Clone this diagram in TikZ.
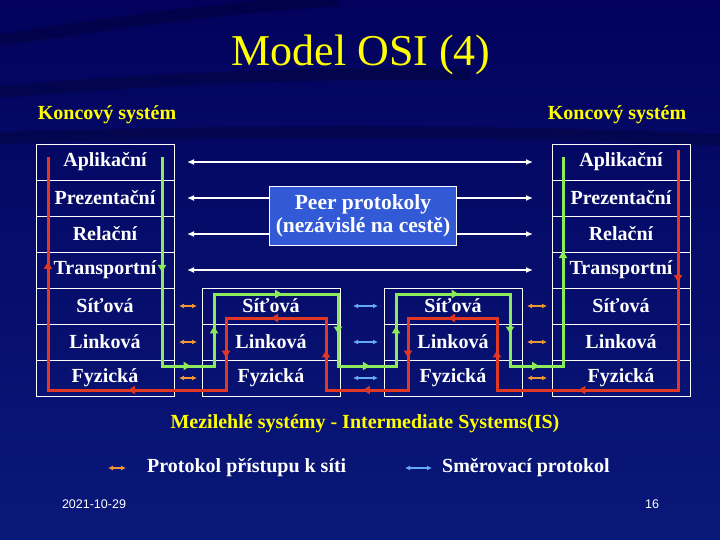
\documentclass[tikz,border=0pt]{standalone}
\usepackage{fontspec}
\setmainfont{Liberation Serif}
\newfontfamily\footfont{Liberation Sans}
\usetikzlibrary{arrows.meta,positioning,calc,decorations.pathreplacing}
\definecolor{slidetop}{RGB}{2,2,92}
\definecolor{slidebot}{RGB}{10,24,122}
\definecolor{slideyellow}{RGB}{255,255,0}
\definecolor{peerblue}{RGB}{50,90,215}
\definecolor{flowred}{RGB}{225,55,35}
\definecolor{flowgreen}{RGB}{140,235,90}
\definecolor{accorange}{RGB}{240,150,50}
\definecolor{rteblue}{RGB}{100,170,245}
\tikzset{
  layer/.style={draw=white,line width=0.8pt,minimum width=138pt,minimum height=36pt,inner sep=0pt,outer sep=0pt,text=white,font=\bfseries\fontsize{20}{22}\selectfont},
  peerbox/.style={draw=white,fill=peerblue,line width=1pt,minimum width=187pt,minimum height=59pt,inner sep=1pt,align=center,text=white,font=\bfseries\fontsize{21.5}{23}\selectfont},
  peer/.style={{Latex[length=7pt,width=6pt]}-{Latex[length=7pt,width=6pt]},white,line width=1.6pt,shorten <=13pt,shorten >=19pt},
  acc/.style={{Latex[length=5pt,width=5pt]}-{Latex[length=5pt,width=5pt]},accorange,line width=1.8pt,shorten <=5pt,shorten >=5pt},
  rte/.style={{Latex[length=5pt,width=5pt]}-{Latex[length=5pt,width=5pt]},rteblue,line width=1.8pt,shorten <=13pt,shorten >=6pt},
  flow/.style={draw=#1,line width=3pt,postaction={decorate,decoration={show path construction,
    lineto code={\draw[#1,line width=3pt,-{Triangle[length=7pt,width=8pt]}] (\tikzinputsegmentfirst) -- ($(\tikzinputsegmentfirst)!0.55!(\tikzinputsegmentlast)$);}}}},
  headline/.style={text=slideyellow,font=\fontsize{44}{48}\selectfont},
  yellowtext/.style={text=slideyellow,font=\bfseries\fontsize{20}{22}\selectfont},
  legend/.style={text=white,font=\bfseries\fontsize{20}{22}\selectfont,inner sep=0pt},
  foot/.style={text=white,font=\footfont\fontsize{12.5}{14}\selectfont},
  swoosh/.style={line width=12pt,draw=black,opacity=0.2}
}

\begin{document}
\begin{tikzpicture}[x=1pt,y=-1pt]

\useasboundingbox (0,0) rectangle (720,540);
\shade[top color=slidetop,bottom color=slidebot] (0,0) rectangle (720,540);
\draw[swoosh] (0,40) .. controls (120,22) and (220,8) .. (340,0);
\draw[swoosh] (0,92) .. controls (140,80) and (300,72) .. (470,74);
\draw[swoosh] (0,138) .. controls (200,132) and (450,128) .. (720,140);

\node[headline] (title) at (361,55) {Model OSI (4)};
\node[yellowtext] (lsys) at (107,115) {Koncový systém};
\node[yellowtext] (rsys) at (617,115) {Koncový systém};

% koncove systemy
\node[layer] (lapp) at (105,162) {Aplikační};
\node[layer,below=0pt of lapp] (lprs) {Prezentační};
\node[layer,below=0pt of lprs] (lses) {Relační};
\node[layer,below=0pt of lses] (ltra) {Transportní};
\node[layer,below=0pt of ltra] (lnet) {Síťová};
\node[layer,below=0pt of lnet] (llnk) {Linková};
\node[layer,below=0pt of llnk] (lphy) {Fyzická};

\node[layer] (rapp) at (621,162) {Aplikační};
\node[layer,below=0pt of rapp] (rprs) {Prezentační};
\node[layer,below=0pt of rprs] (rses) {Relační};
\node[layer,below=0pt of rses] (rtra) {Transportní};
\node[layer,below=0pt of rtra] (rnet) {Síťová};
\node[layer,below=0pt of rnet] (rlnk) {Linková};
\node[layer,below=0pt of rlnk] (rphy) {Fyzická};

% mezilehle systemy
\node[layer] (anet) at (271,306) {Síťová};
\node[layer,below=0pt of anet] (alnk) {Linková};
\node[layer,below=0pt of alnk] (aphy) {Fyzická};

\node[layer] (bnet) at (453,306) {Síťová};
\node[layer,below=0pt of bnet] (blnk) {Linková};
\node[layer,below=0pt of blnk] (bphy) {Fyzická};

\draw[peer] (lapp) -- (rapp);
\draw[peer] (lprs) -- (rprs);
\draw[peer] (lses) -- (rses);
\draw[peer] (ltra) -- (rtra);
\node[peerbox] (peer) at (363,216) {Peer protokoly\\(nezávislé na cestě)};

\draw[acc] (lnet) -- (anet);
\draw[acc] (llnk) -- (alnk);
\draw[acc] (lphy) -- (aphy);
\draw[rte] (anet) -- (bnet);
\draw[rte] (alnk) -- (blnk);
\draw[rte] (aphy) -- (bphy);
\draw[acc] (bnet) -- (rnet);
\draw[acc] (blnk) -- (rlnk);
\draw[acc] (bphy) -- (rphy);

% tok dat
\draw[flow=flowgreen] ($(lapp.north east)+(-12,13)$) |- ($(aphy.north west)+(12,6)$)
  |- ($(anet.north east)+(-2,6)$) |- ($(bphy.north west)+(12,6)$)
  |- ($(bnet.north east)+(-12,6)$) |- ($(rphy.north west)+(11,6)$)
  -- ($(rapp.north west)+(11,13)$);
\draw[flow=flowred] ($(rapp.north east)+(-12,6)$) |- ($(bphy.south east)+(-25,-6)$)
  |- ($(bnet.south west)+(24,-6)$) |- ($(aphy.south east)+(-14,-6)$)
  |- ($(anet.south west)+(24,-6)$) |- ($(lphy.south west)+(12,-6)$)
  -- ($(lapp.north west)+(12,13)$);

\node[yellowtext] (is) at (365,424) {Mezilehlé systémy - Intermediate Systems(IS)};

% legenda
\node[legend,anchor=west] (legacc) at (147,468) {Protokol přístupu k síti};
\coordinate[left=21pt of legacc.west] (acc2);
\coordinate[left=18pt of acc2] (acc1);
\draw[acc,shorten <=0pt,shorten >=0pt] (acc1) -- (acc2);
\node[legend,anchor=west] (legrte) at (442,468) {Směrovací protokol};
\coordinate[left=10pt of legrte.west] (rte2);
\coordinate[left=27pt of rte2] (rte1);
\draw[rte,shorten <=0pt,shorten >=0pt] (rte1) -- (rte2);

\node[foot] (date) at (94,504) {2021-10-29};
\node[foot] (page) at (652,504) {16};

\end{tikzpicture}
\end{document}
